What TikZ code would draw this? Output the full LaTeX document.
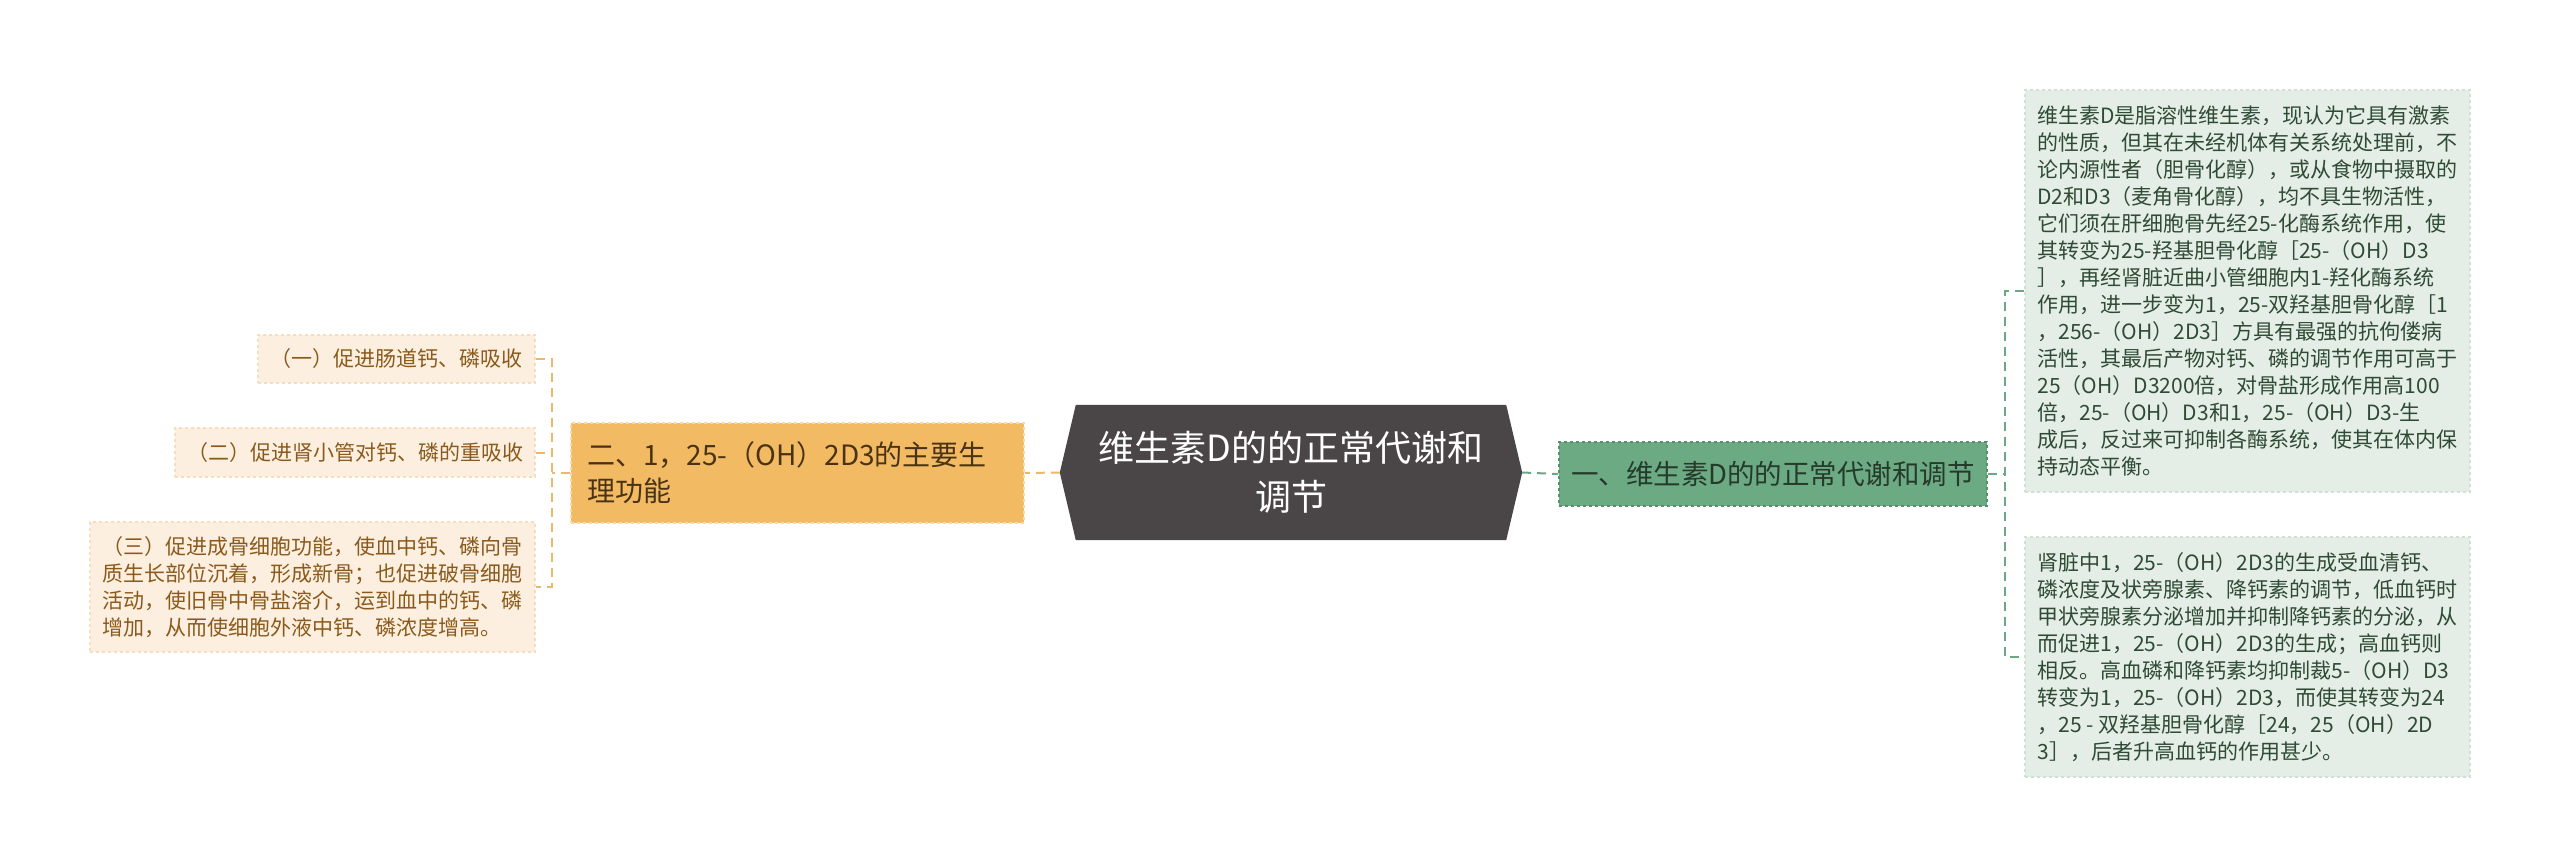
\documentclass[tikz,border=0pt]{standalone}
\usepackage{fontspec}
\setmainfont{Noto Sans CJK SC}
\pgfdeclarelayer{bg}
\pgfsetlayers{bg,main}
\definecolor{rbg}{HTML}{E4EEE6}
\definecolor{rtx}{HTML}{2F4A35}
\definecolor{rbd}{HTML}{D0E0D4}
\definecolor{lbg}{HTML}{FDEFDF}
\definecolor{ltx}{HTML}{8A5A1C}
\definecolor{lbd}{HTML}{F5DDBD}
\definecolor{obg}{HTML}{F1BA63}
\definecolor{obd}{HTML}{F8DAA6}
\definecolor{otx}{HTML}{4A3315}
\definecolor{gbg}{HTML}{6BAA83}
\definecolor{gbd}{HTML}{578F6D}
\definecolor{gtx}{HTML}{263A2C}
\definecolor{hbg}{HTML}{4A4546}
\definecolor{oline}{HTML}{EBB86C}
\definecolor{gline}{HTML}{6CA884}
\tikzset{
  rleaf/.style={rectangle, draw=rbd, dashed, line width=1.2pt, fill=rbg, text=rtx,
    font=\fontsize{21pt}{27pt}\selectfont, align=left, inner sep=0pt, minimum width=445pt},
  lleaf/.style={rectangle, draw=lbd, dashed, line width=1.2pt, fill=lbg, text=ltx,
    font=\fontsize{21pt}{27pt}\selectfont, align=left, inner sep=0pt},
  obox/.style={rectangle, draw=obd, dashed, line width=1.5pt, fill=obg, text=otx,
    font=\fontsize{28pt}{36pt}\selectfont, align=left, text width=421pt, inner xsep=16pt, inner ysep=0pt, minimum height=100pt},
  gbox/.style={rectangle, draw=gbd, dashed, line width=1.5pt, fill=gbg, text=gtx,
    font=\fontsize{27.5pt}{34pt}\selectfont, inner sep=0pt, minimum width=428pt, minimum height=64pt},
  hexbox/.style={rectangle, text=white, font=\fontsize{36pt}{49pt}\selectfont, align=center,
    inner sep=0pt, minimum width=430pt, minimum height=135pt},
  oconn/.style={draw=oline, line width=2pt, dash pattern=on 9pt off 6pt},
  gconn/.style={draw=gline, line width=2pt, dash pattern=on 9pt off 6pt},
}
\begin{document}
\begin{tikzpicture}[x=1pt,y=-1pt]
\useasboundingbox (0,0) rectangle (2560,865);

% central hexagon
\node[hexbox] (hex) at (1291,472.5) {维生素D的的正常代谢和\\调节};
\begin{pgfonlayer}{bg}
\fill[white] (0,0) rectangle (2560,865);
\fill[hbg] ([xshift=-16pt]hex.west) -- (hex.north west) -- (hex.north east)
  -- ([xshift=16pt]hex.east) -- (hex.south east) -- (hex.south west) -- cycle;
\end{pgfonlayer}
\coordinate (hexL) at ([xshift=-16pt]hex.west);
\coordinate (hexR) at ([xshift=16pt]hex.east);

% branches
\node[obox] (orange) at (797.5,473) {二、1，25-（OH）2D3的主要生\\理功能};
\node[gbox] (green) at (1773,474) {一、维生素D的的正常代谢和调节};

% left leaves
\node[lleaf, minimum width=277pt, minimum height=48pt] (l1) at (396.5,359) {（一）促进肠道钙、磷吸收};
\node[lleaf, minimum width=360pt, minimum height=49pt] (l2) at (355,452.5) {（二）促进肾小管对钙、磷的重吸收};
\node[lleaf, minimum width=445pt, minimum height=130pt] (l3) at (312.5,587) {（三）促进成骨细胞功能，使血中钙、磷向骨\\质生长部位沉着，形成新骨；也促进破骨细胞\\活动，使旧骨中骨盐溶介，运到血中的钙、磷\\增加，从而使细胞外液中钙、磷浓度增高。};

% right leaves
\node[rleaf, minimum height=402pt] (rt) at (2247.5,291) {维生素D是脂溶性维生素，现认为它具有激素\\的性质，但其在未经机体有关系统处理前，不\\论内源性者（胆骨化醇），或从食物中摄取的\\D2和D3（麦角骨化醇），均不具生物活性，\\它们须在肝细胞骨先经25-化酶系统作用，使\\其转变为25-羟基胆骨化醇［25-（OH）D3\\］，再经肾脏近曲小管细胞内1-羟化酶系统\\作用，进一步变为1，25-双羟基胆骨化醇［1\\，256-（OH）2D3］方具有最强的抗佝偻病\\活性，其最后产物对钙、磷的调节作用可高于\\25（OH）D3200倍，对骨盐形成作用高100\\倍，25-（OH）D3和1，25-（OH）D3-生\\成后，反过来可抑制各酶系统，使其在体内保\\持动态平衡。};
\node[rleaf, minimum height=240pt] (rb) at (2247.5,657) {肾脏中1，25-（OH）2D3的生成受血清钙、\\磷浓度及状旁腺素、降钙素的调节，低血钙时\\甲状旁腺素分泌增加并抑制降钙素的分泌，从\\而促进1，25-（OH）2D3的生成；高血钙则\\相反。高血磷和降钙素均抑制裁5-（OH）D3\\转变为1，25-（OH）2D3，而使其转变为24\\，25 - 双羟基胆骨化醇［24，25（OH）2D\\3］，后者升高血钙的作用甚少。};

% connectors
\coordinate (lj) at (552,473);
\coordinate (rj) at (2005,474);
\draw[oconn] (hexL) -- (orange.east);
\draw[oconn] (orange.west) -- (lj);
\draw[oconn] (l1.east) -- (l1.east -| lj) -- (l3.east -| lj) -- (l3.east);
\draw[oconn] (l2.east) -- (l2.east -| lj);
\draw[gconn] (hexR) -- (green.west);
\draw[gconn] (green.east) -- (rj);
\draw[gconn] (rt.west) -- (rt.west -| rj) -- (rb.west -| rj) -- (rb.west);
\end{tikzpicture}
\end{document}
